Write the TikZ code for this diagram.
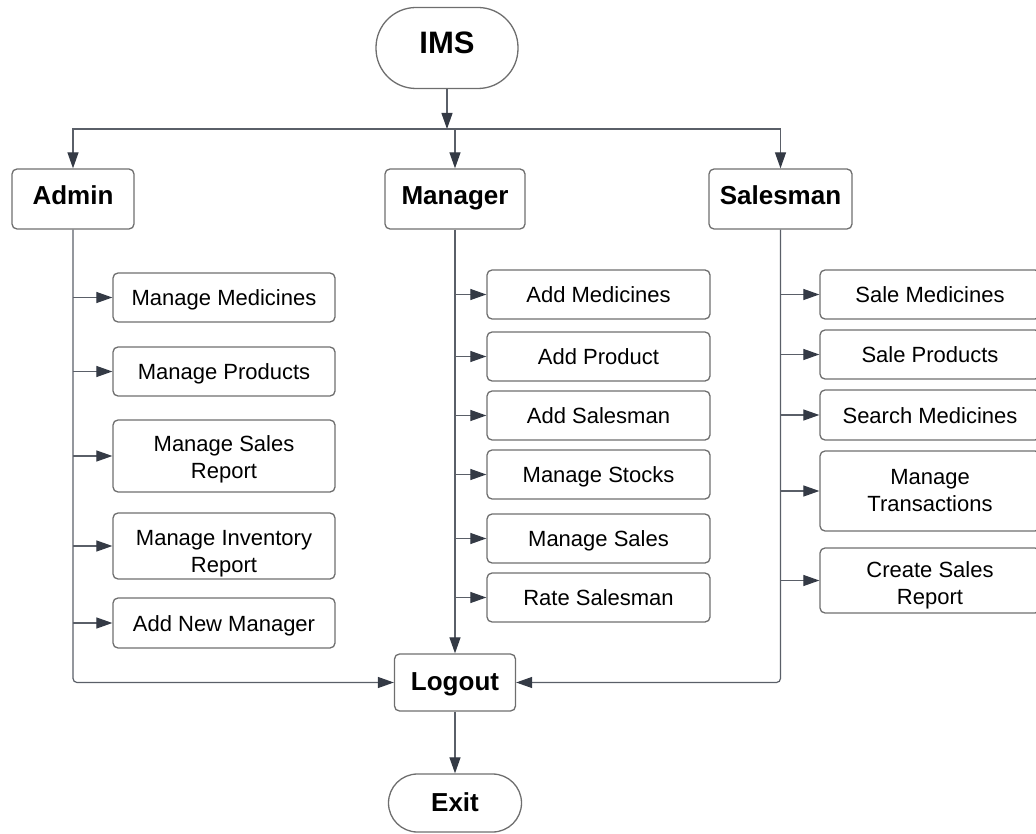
\documentclass[tikz,border=0pt]{standalone}
\usepackage{fontspec}
\setmainfont{Liberation Sans}
\usetikzlibrary{arrows.meta}
\definecolor{edgecol}{HTML}{5A5F68}
\definecolor{tipcol}{HTML}{343A45}
\definecolor{boxcol}{HTML}{6E6E6E}
\tikzset{
  box/.style={draw=boxcol, line width=1.3pt, rounded corners=5pt, align=center,
    inner sep=0pt, text=black, font=\fontsize{22}{27}\selectfont},
  single/.style={text height=16pt, text depth=0pt},
  rolebox/.style={box, font=\fontsize{26}{30}\selectfont\bfseries, text height=19pt, text depth=7pt},
  term/.style={box, font=\fontsize{26}{30}\selectfont\bfseries},
  conn/.style={draw=edgecol, line width=1.2pt},
  arr/.style={conn, -{Triangle[length=16pt,width=11pt,color=tipcol]}},
}
\begin{document}
\begin{tikzpicture}[x=1pt,y=-1pt]
\useasboundingbox (0,0) rectangle (1036,834);

% start / end terminals
\node[term, minimum width=142pt, minimum height=81pt, rounded corners=40pt,
      font=\fontsize{31}{34}\selectfont\bfseries, text height=22pt, text depth=11pt] (ims) at (447,48) {IMS};
\node[rolebox, minimum width=121pt, minimum height=57pt, text depth=4pt] (logout) at (455,682.5) {Logout};
\node[term, minimum width=133pt, minimum height=58pt, rounded corners=29pt,
      text height=19pt, text depth=3pt] (exit) at (455,803) {Exit};

% user roles
\node[rolebox, minimum width=122pt, minimum height=60pt] (admin) at (73,199) {Admin};
\node[rolebox, minimum width=140pt, minimum height=60pt] (mgr) at (455,199) {Manager};
\node[rolebox, minimum width=143pt, minimum height=60pt] (sales) at (780.5,199) {Salesman};

% admin functions
\begin{scope}[every node/.style={box, minimum width=222pt}]
\node[single, minimum height=49pt] (a1) at (224,297.5) {Manage Medicines};
\node[single, minimum height=49pt] (a2) at (224,371.5) {Manage Products};
\node[minimum height=72pt] (a3) at (224,456) {\rule{0pt}{22pt}Manage Sales\\Report};
\node[minimum height=66pt] (a4) at (224,546) {\rule{0pt}{30pt}Manage Inventory\\Report};
\node[single, minimum height=50pt] (a5) at (224,623) {Add New Manager};
\end{scope}

% manager functions
\begin{scope}[every node/.style={box, single, minimum width=223pt, minimum height=49pt}]
\node (m1) at (598.5,294.5) {Add Medicines};
\node (m2) at (598.5,356.5) {Add Product};
\node (m3) at (598.5,415.5) {Add Salesman};
\node (m4) at (598.5,474.5) {Manage Stocks};
\node (m5) at (598.5,538.5) {Manage Sales};
\node (m6) at (598.5,597.5) {Rate Salesman};
\end{scope}

% salesman functions
\begin{scope}[every node/.style={box, minimum width=220pt}]
\node[single, minimum height=49pt] (s1) at (930,294.5) {Sale Medicines};
\node[single, minimum height=49pt] (s2) at (930,354.5) {Sale Products};
\node[single, minimum height=50pt] (s3) at (930,415) {Search Medicines};
\node[minimum height=80pt] (s4) at (930,491) {Manage\\Transactions};
\node[minimum height=65pt] (s5) at (930,580.5) {\rule{0pt}{26pt}Create Sales\\Report};
\end{scope}

% distribution from IMS to the roles
\coordinate (split) at (447,129);
\draw[arr] (ims.south) -- (split);
\draw[arr] (split) -| (admin.north);
\draw[arr] (split) -| (sales.north);
\draw[arr] (split -| mgr.north) -- (mgr.north);

% role trunks into Logout
\draw[arr, rounded corners=4pt] (admin.south) |- (logout.west);
\draw[arr] (mgr.south) -- (logout.north);
\draw[arr, rounded corners=4pt] (sales.south) |- (logout.east);
\draw[arr] (logout.south) -- (exit.north);

% branches to each function
\foreach \n in {a1,a2,a3,a4,a5} \draw[arr] (admin.south |- \n.west) -- (\n.west);
\foreach \n in {m1,m2,m3,m4,m5,m6} \draw[arr] (mgr.south |- \n.west) -- (\n.west);
\foreach \n in {s1,s2,s3,s4,s5} \draw[arr] (sales.south |- \n.west) -- (\n.west);
\end{tikzpicture}
\end{document}
